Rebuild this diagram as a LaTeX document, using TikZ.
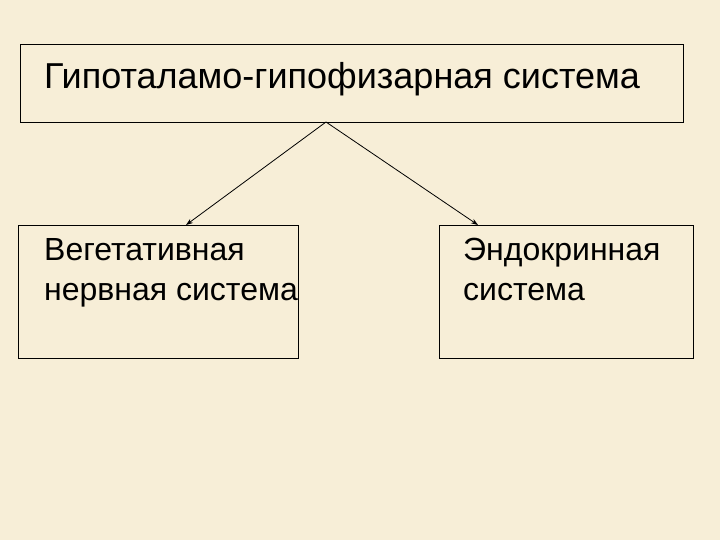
\documentclass[tikz,border=0pt]{standalone}
\usepackage{fontspec}
\setmainfont{Liberation Sans}
\usetikzlibrary{arrows.meta}
\definecolor{bg}{HTML}{F7EED7}
\begin{document}
\begin{tikzpicture}[x=1pt,y=-1pt,
  box/.style={draw,line width=0.8pt},
  lbl/.style={anchor=north west,inner sep=0pt,font=\fontsize{32}{40}\selectfont,align=left},
  arr/.style={-{Stealth[length=7pt,width=5pt]},line width=0.8pt}]
\fill[bg] (0,0) rectangle (720,540);
\useasboundingbox (0,0) rectangle (720,540);
\draw[box] (20,44) rectangle (683,122);
\draw[box] (18,225) rectangle (298,358);
\draw[box] (439,225) rectangle (693,358);
\node[lbl,font=\fontsize{36}{40}\selectfont] (t) at (44,62) {Гипоталамо-гипофизарная система};
\node[lbl] (l) at (44,238) {Вегетативная\\нервная система};
\node[lbl] (r) at (463,238) {Эндокринная\\система};
\coordinate (top) at (326,122);
\coordinate (la) at (186,225);
\coordinate (ra) at (478,225);
\draw[arr] (top) -- (la);
\draw[arr] (top) -- (ra);
\end{tikzpicture}
\end{document}
